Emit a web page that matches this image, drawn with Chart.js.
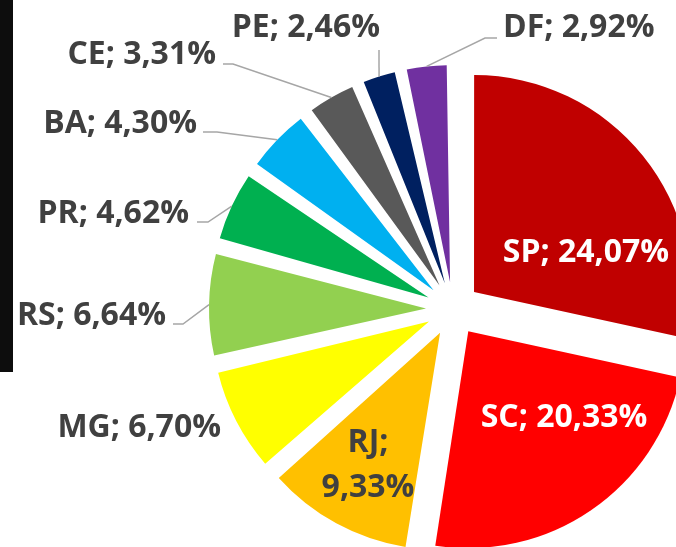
<!DOCTYPE html>
<html>
<head>
<meta charset="utf-8">
<script src="https://cdn.jsdelivr.net/npm/chart.js@4.4.1/dist/chart.umd.min.js"></script>
<style>
html, body { margin: 0; padding: 0; width: 676px; height: 547px; overflow: hidden; background: #fff; }
#wrap { position: relative; width: 676px; height: 547px; overflow: hidden; }
#barra { position: absolute; left: 0; top: 0; width: 13px; height: 372px; background: #0d0d0d; }
#grafica { position: absolute; left: 0; top: 0; }
</style>
</head>
<body>
<div id="wrap">
  <div id="barra"></div>
  <canvas id="grafica" width="906" height="618"></canvas>
</div>
<script>
// Dados
const estados = ['SP', 'SC', 'RJ', 'MG', 'RS', 'PR', 'BA', 'CE', 'PE', 'DF'];
const porcentagens = [24.07, 20.33, 9.33, 6.70, 6.64, 4.62, 4.30, 3.31, 2.46, 2.92];
const cores = ['#C00000', '#FF0000', '#FFC000', '#FFFF00', '#92D050', '#00B050', '#00B0F0', '#595959', '#002060', '#7030A0'];

const RAIO = 217;       // raio da pizza
const DESLOCAMENTO = 27; // afastamento de cada fatia (px)

// Posição dos rótulos (relativa ao centro da pizza) e linhas de chamada
const estiloRotulos = [
  { dx: 133, dy: -47, align: 'center', cor: '#ffffff' },                     // SP
  { dx: 111, dy: 118, align: 'center', cor: '#ffffff' },                     // SC
  { dx: -85, dy: 143, align: 'center', cor: '#404040', quebra: 45 },         // RJ
  { dx: -232, dy: 128, align: 'right', cor: '#404040' },                     // MG
  { dx: -287, dy: 16, align: 'right', cor: '#404040', linha: [[-280, 15], [-270, 15]] },   // RS
  { dx: -264, dy: -86, align: 'right', cor: '#404040', linha: [[-256, -87], [-245, -87]] }, // PR
  { dx: -256, dy: -176, align: 'right', cor: '#404040', linha: [[-250, -177], [-236, -177]] }, // BA
  { dx: -237, dy: -245, align: 'right', cor: '#404040', linha: [[-230, -245], [-220, -245]] }, // CE
  { dx: -73, dy: -272, align: 'right', cor: '#404040', linha: [[-74, -259]] },  // PE
  { dx: 50, dy: -272, align: 'left', cor: '#404040', linha: [[44, -271], [32, -271]] }     // DF
];

function formata(v) {
  return v.toFixed(2).replace('.', ',') + '%';
}

// o Chart.js aumenta o raio das fatias pequenas quando há offset; aqui desfazemos isso
const pluginRaio = {
  id: 'raioFixo',
  beforeDatasetsDraw(chart) {
    const meta = chart.getDatasetMeta(0);
    const base = meta.controller.outerRadius;
    meta.data.forEach(arco => {
      const c = arco.endAngle - arco.startAngle;
      const fix = 1 - Math.sin(Math.min(Math.PI, c));
      arco.outerRadius = base - (arco.options.offset / 4) * fix;
    });
  }
};

const pluginRotulos = {
  id: 'rotulos',
  afterDatasetsDraw(chart) {
    const ctx = chart.ctx;
    const meta = chart.getDatasetMeta(0);
    const base = meta.controller.outerRadius;
    ctx.save();
    meta.data.forEach((arco, i) => {
      const p = arco.getProps(['x', 'y', 'startAngle', 'endAngle'], true);
      const off = (arco.options.offset || 0) / 4;
      const meio = (p.startAngle + p.endAngle) / 2;
      const est = estiloRotulos[i];

      // linha de chamada até a borda da fatia
      if (est.linha) {
        const bx = p.x + Math.cos(meio) * (base + off);
        const by = p.y + Math.sin(meio) * (base + off);
        ctx.beginPath();
        ctx.strokeStyle = '#a6a6a6';
        ctx.lineWidth = 1.5;
        est.linha.forEach((pt, k) => {
          if (k === 0) ctx.moveTo(p.x + pt[0], p.y + pt[1]);
          else ctx.lineTo(p.x + pt[0], p.y + pt[1]);
        });
        ctx.lineTo(bx, by);
        ctx.stroke();
      }

      ctx.font = 'bold 32px "Open Sans"';
      ctx.fillStyle = est.cor;
      ctx.textAlign = est.align;
      ctx.textBaseline = 'alphabetic';
      if (est.quebra) {
        ctx.fillText(estados[i] + ';', p.x + est.dx, p.y + est.dy);
        ctx.fillText(formata(porcentagens[i]), p.x + est.dx, p.y + est.dy + est.quebra);
      } else {
        ctx.fillText(estados[i] + '; ' + formata(porcentagens[i]), p.x + est.dx, p.y + est.dy);
      }
    });
    ctx.restore();
  }
};

const ctx = document.getElementById('grafica').getContext('2d');
new Chart(ctx, {
  type: 'pie',
  data: {
    labels: estados,
    datasets: [{
      data: porcentagens,
      backgroundColor: cores,
      borderWidth: 0,
      offset: DESLOCAMENTO * 4,
      radius: RAIO
    }]
  },
  options: {
    responsive: false,
    animation: false,
    radius: RAIO,
    layout: { padding: 0 },
    plugins: {
      legend: { display: false },
      tooltip: { enabled: false }
    }
  },
  plugins: [pluginRaio, pluginRotulos]
});
</script>
</body>
</html>
